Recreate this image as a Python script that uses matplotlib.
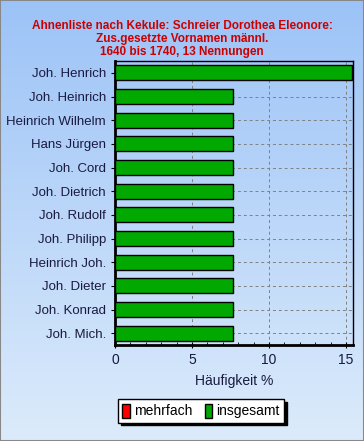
import numpy as np
import matplotlib.pyplot as plt
from matplotlib.patches import Patch
from matplotlib.colors import LinearSegmentedColormap

plt.rcParams['font.family'] = ['Liberation Sans', 'DejaVu Sans']

names = ['Joh. Henrich', 'Joh. Heinrich', 'Heinrich Wilhelm', 'Hans Jürgen',
         'Joh. Cord', 'Joh. Dietrich', 'Joh. Rudolf', 'Joh. Philipp',
         'Heinrich Joh.', 'Joh. Dieter', 'Joh. Konrad', 'Joh. Mich.']
insgesamt = [15.38, 7.69, 7.69, 7.69, 7.69, 7.69, 7.69, 7.69, 7.69, 7.69, 7.69, 7.69]
mehrfach = [0] * 12
xticks = [0, 5, 10, 15]

fig = plt.figure(figsize=(3.64, 4.41), dpi=100)

# background gradient
bg = fig.add_axes([0, 0, 1, 1], zorder=-10)
grad = np.linspace(0, 1, 256).reshape(-1, 1)
cmap = LinearSegmentedColormap.from_list('bg', ['#9cc3f7', '#dcebfb'])
bg.imshow(grad, aspect='auto', cmap=cmap, extent=[0, 1, 0, 1])
bg.set_xlim(0, 1)
bg.set_ylim(0, 1)
bg.axis('off')
fig.patches.append(plt.Rectangle((0, 0), 1, 1, transform=fig.transFigure,
                                 fill=False, edgecolor='#888888', lw=1.5))

ax = fig.add_axes([115 / 364, 1 - 345 / 441, 238 / 364, 284 / 441])
ax.patch.set_alpha(0)
y = np.arange(len(names))
ax.barh(y, insgesamt, height=0.64, color='#00a800', edgecolor='black', lw=1, zorder=3)
ax.set_ylim(len(names) - 0.5, -0.5)
ax.set_xlim(0, 15.45)
ax.set_yticks(y)
ax.set_yticklabels(names, fontsize=9.5, color='#1a1a40')
ax.set_xticks(xticks)
ax.set_xticks(np.arange(0, 16, 1), minor=True)
ax.tick_params(axis='x', labelsize=10, length=4, direction='inout', labelcolor='#1a1a40', pad=4)
ax.tick_params(axis='x', which='minor', length=2, direction='in')
ax.tick_params(axis='y', length=3)
ax.grid(True, axis='both', linestyle=(0, (3, 3)), color='#808080', lw=0.7, zorder=0)
ax.set_xlabel('Häufigkeit %', fontsize=10, labelpad=5, color='#1a1a40')
for s in ['left', 'bottom']:
    ax.spines[s].set_linewidth(2)
for s in ['right', 'top']:
    ax.spines[s].set_linewidth(1)

fig.text(0.5, 1 - 20 / 441, 'Ahnenliste nach Kekule: Schreier Dorothea Eleonore:\n'
         'Zus.gesetzte Vornamen männl.\n1640 bis 1740, 13 Nennungen',
         ha='center', va='top', color='#cc0000', fontsize=8.5, fontweight='bold',
         linespacing=1.12)

handles = [Patch(facecolor='#ff0000', edgecolor='black', label='mehrfach'),
           Patch(facecolor='#00a800', edgecolor='black', label='insgesamt')]
leg = fig.legend(handles=handles, loc='center', bbox_to_anchor=(201 / 364, 1 - 411 / 441),
                 ncol=2, fontsize=10, frameon=True, fancybox=False,
                 shadow={'color': 'black', 'alpha': 1},
                 handlelength=0.55, handleheight=1.2, handletextpad=0.3,
                 columnspacing=0.9, borderpad=0.3)
leg.get_frame().set_edgecolor('black')
leg.get_frame().set_facecolor('white')
leg.get_frame().set_linewidth(1)

fig.savefig('out.png', dpi=100)
